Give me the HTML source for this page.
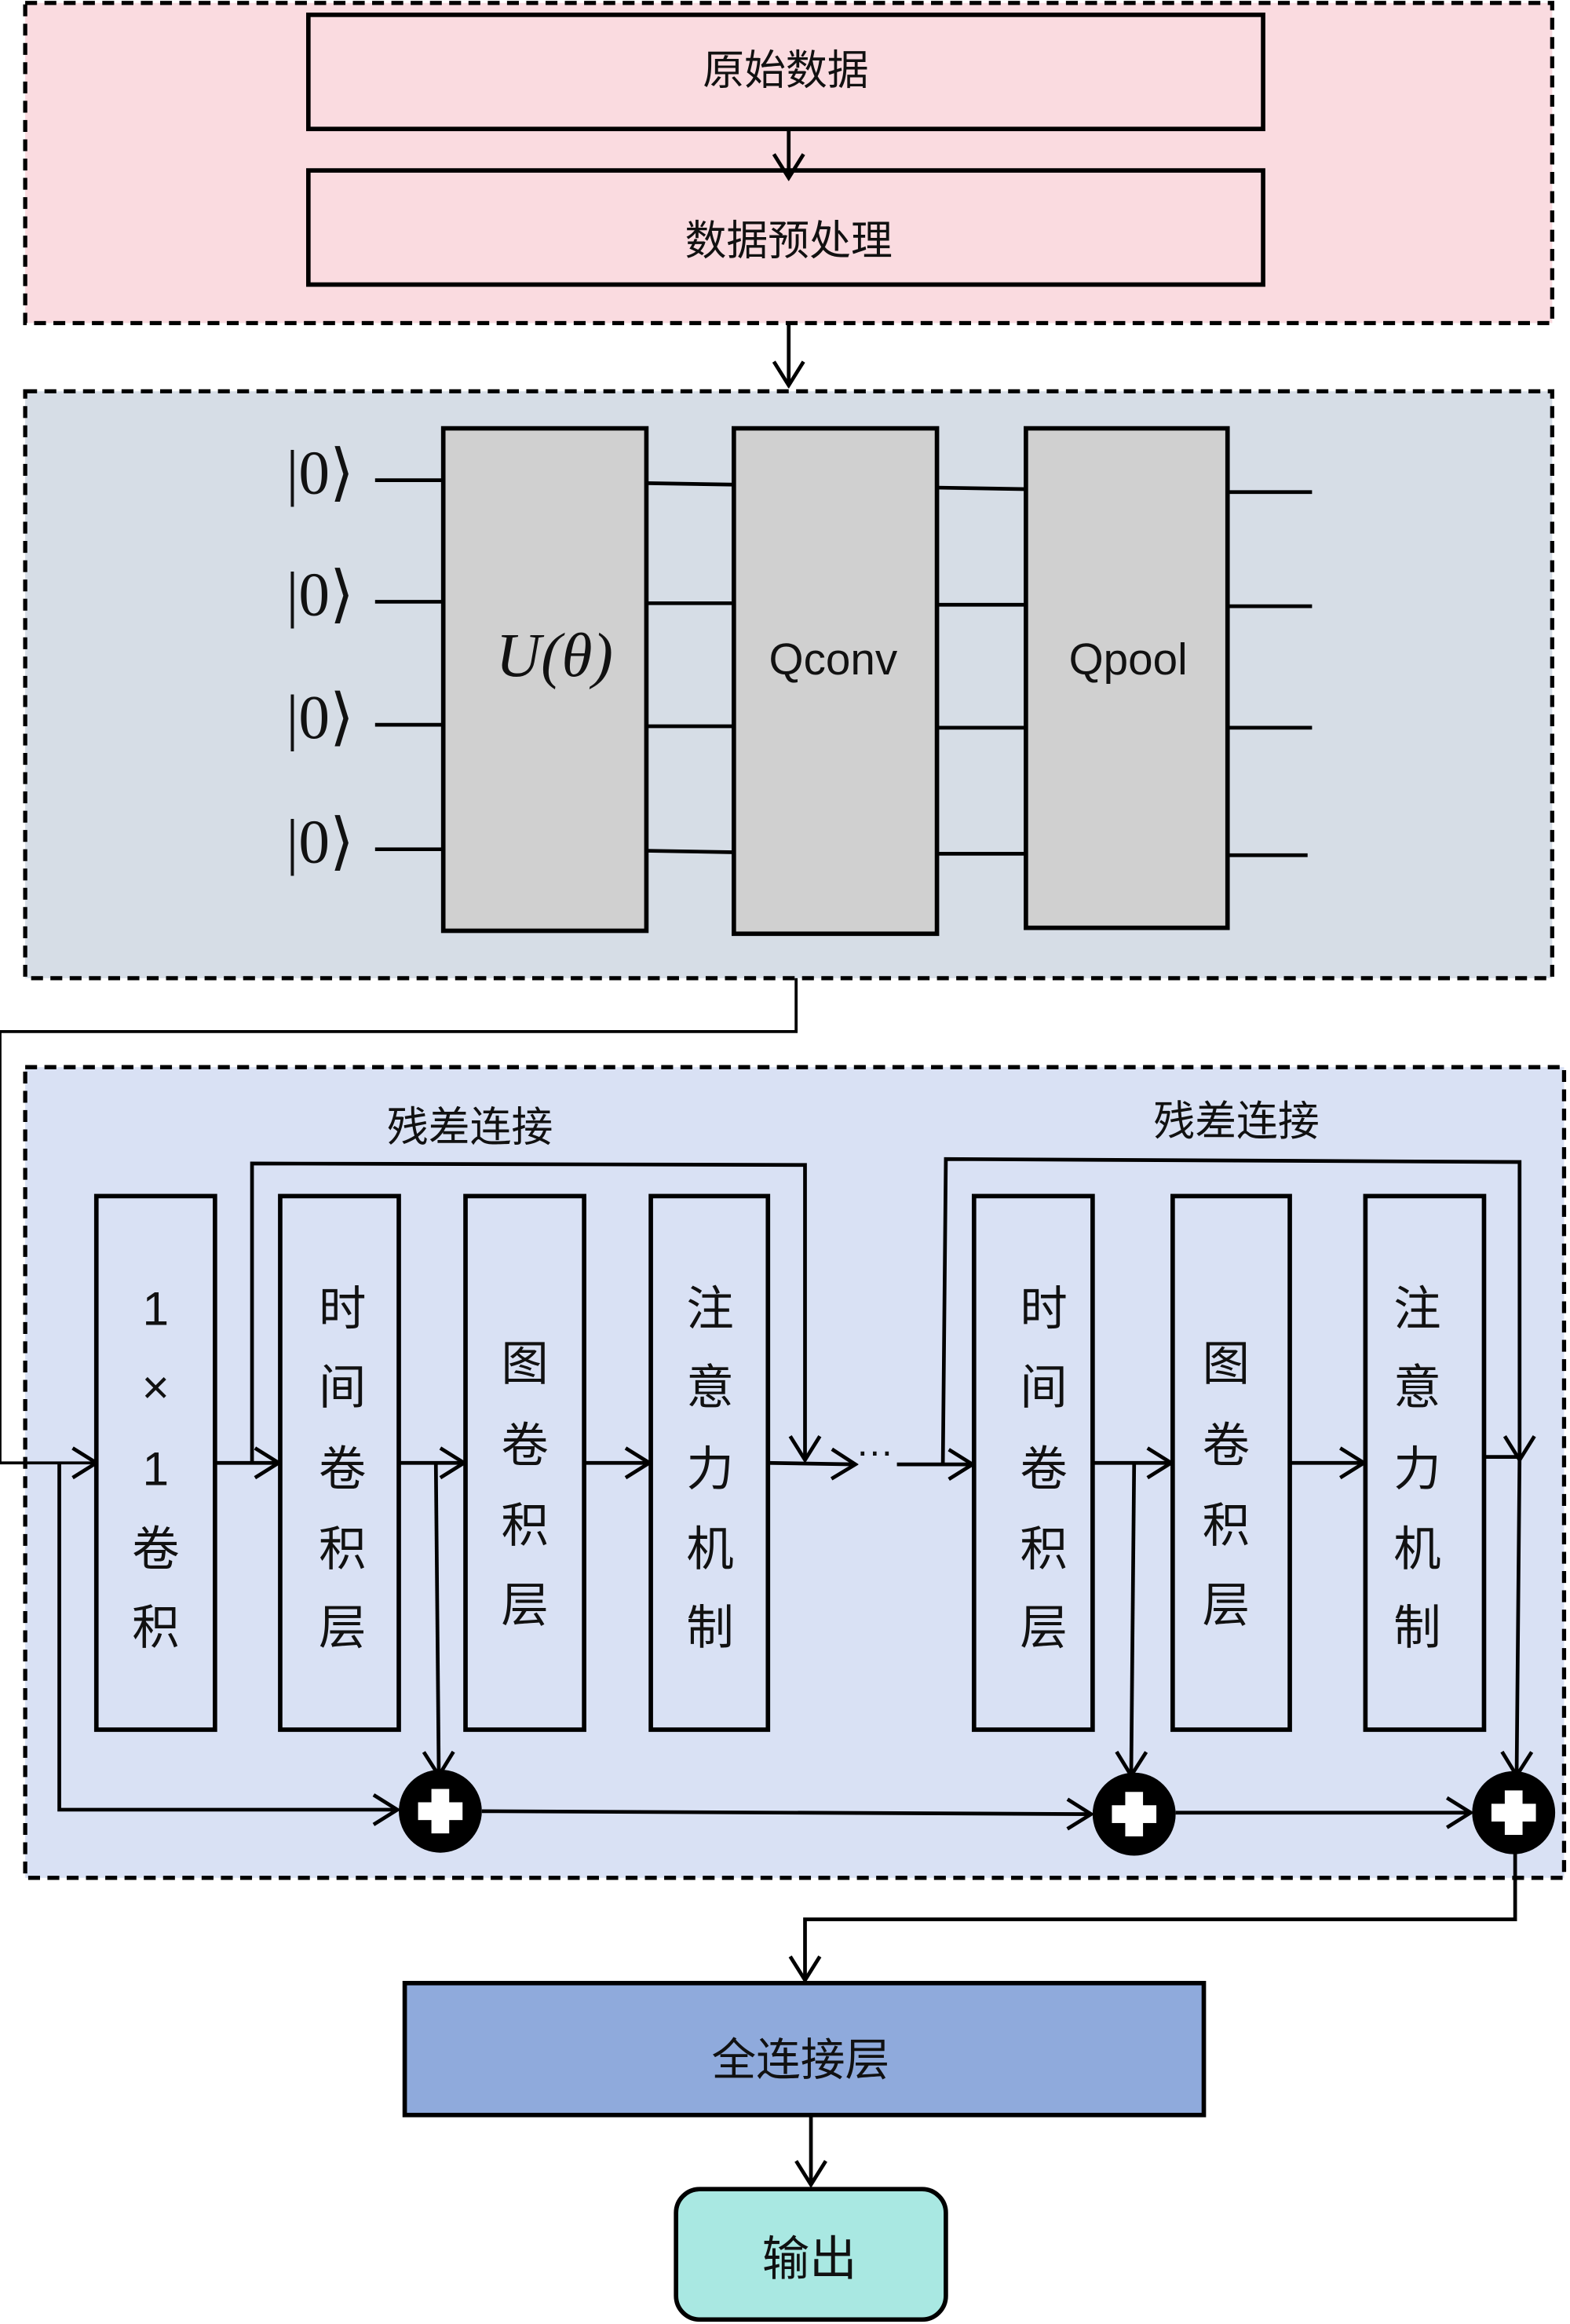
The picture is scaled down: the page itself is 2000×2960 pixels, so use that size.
<!DOCTYPE html>
<html><head><meta charset="utf-8"><style>
html,body{margin:0;padding:0;background:#fff}
svg{display:block}
text{font-family:"Liberation Sans","Noto Sans CJK SC",sans-serif;fill:#111}
.s{font-family:"Liberation Serif","Noto Serif CJK SC",serif}
</style></head><body>
<svg width="2000" height="2960" viewBox="0 0 1059 1568" preserveAspectRatio="none" xmlns="http://www.w3.org/2000/svg">
<defs>
<marker id="a" markerWidth="20" markerHeight="24" refX="18" refY="12" orient="auto" markerUnits="userSpaceOnUse">
<path d="M2,2 L18,12 L2,22" fill="none" stroke="#000" stroke-width="2.5"/>
</marker>
</defs>
<g stroke="#000" stroke-width="2.8" stroke-dasharray="8,5">
<rect x="17" y="2" width="1030" height="216" fill="#fadbe0"/>
<rect x="17" y="264" width="1030" height="396" fill="#d6dde6"/>
<rect x="17" y="720" width="1038" height="547" fill="#d9e1f4"/>
</g>
<g stroke="#000" stroke-width="3" fill="#fadbe0">
<rect x="208" y="10" width="644" height="77"/>
<rect x="208" y="115" width="644" height="77"/>
</g>
<text x="530" y="57" font-size="28" text-anchor="middle">原始数据</text>
<text x="532" y="172" font-size="28" text-anchor="middle">数据预处理</text>
<g stroke="#000" stroke-width="2.5" fill="none">
<line x1="532" y1="87" x2="532" y2="120" marker-end="url(#a)"/>
<line x1="532" y1="218" x2="532" y2="260" marker-end="url(#a)"/>
</g>
<g stroke="#000" stroke-width="2.5">
<line x1="253" y1="324" x2="299" y2="324"/><line x1="253" y1="406" x2="299" y2="406"/>
<line x1="253" y1="489" x2="299" y2="489"/><line x1="253" y1="573" x2="299" y2="573"/>
<line x1="436" y1="326" x2="495" y2="327"/><line x1="436" y1="407" x2="495" y2="407"/>
<line x1="436" y1="490" x2="495" y2="490"/><line x1="436" y1="574" x2="495" y2="575"/>
<line x1="632" y1="329" x2="692" y2="330"/><line x1="632" y1="408" x2="692" y2="408"/>
<line x1="632" y1="491" x2="692" y2="491"/><line x1="632" y1="576" x2="692" y2="576"/>
<line x1="828" y1="332" x2="885" y2="332"/><line x1="828" y1="409" x2="885" y2="409"/>
<line x1="828" y1="491" x2="885" y2="491"/><line x1="828" y1="577" x2="882" y2="577"/>
</g>
<g stroke="#000" stroke-width="3" fill="#d0d0d0">
<rect x="299" y="289" width="137" height="339"/>
<rect x="495" y="289" width="137" height="341"/>
<rect x="692" y="289" width="136" height="337"/>
</g>
<g font-size="42">
<text x="193" y="333" class="s">|0⟩</text>
<text x="193" y="415" class="s">|0⟩</text>
<text x="193" y="498" class="s">|0⟩</text>
<text x="193" y="582" class="s">|0⟩</text>
<text x="374" y="456" class="s" text-anchor="middle" font-style="italic">U(θ)</text>
</g>
<text x="562" y="455" font-size="30" text-anchor="middle">Qconv</text>
<text x="761" y="455" font-size="30" text-anchor="middle">Qpool</text>
<polyline points="537,660 537,696 0,696 0,987 65,987" fill="none" stroke="#000" stroke-width="2" marker-end="url(#a)"/>
<g stroke="#000" stroke-width="3" fill="#d9e1f4">
<rect x="65" y="807" width="80" height="360"/>
<rect x="189" y="807" width="80" height="360"/>
<rect x="314" y="807" width="80" height="360"/>
<rect x="439" y="807" width="79" height="360"/>
<rect x="657" y="807" width="80" height="360"/>
<rect x="791" y="807" width="79" height="360"/>
<rect x="921" y="807" width="80" height="360"/>
</g>
<g font-size="32" text-anchor="middle">
<text x="105" y="894">1</text><text x="105" y="947">×</text><text x="105" y="1002">1</text><text x="105" y="1056">卷</text><text x="105" y="1109">积</text>
<text x="231" y="894">时</text><text x="231" y="947">间</text><text x="231" y="1002">卷</text><text x="231" y="1056">积</text><text x="231" y="1109">层</text>
<text x="354" y="931">图</text><text x="354" y="986">卷</text><text x="354" y="1040">积</text><text x="354" y="1094">层</text>
<text x="479" y="894">注</text><text x="479" y="947">意</text><text x="479" y="1002">力</text><text x="479" y="1056">机</text><text x="479" y="1109">制</text>
<text x="704" y="894">时</text><text x="704" y="947">间</text><text x="704" y="1002">卷</text><text x="704" y="1056">积</text><text x="704" y="1109">层</text>
<text x="827" y="931">图</text><text x="827" y="986">卷</text><text x="827" y="1040">积</text><text x="827" y="1094">层</text>
<text x="956" y="894">注</text><text x="956" y="947">意</text><text x="956" y="1002">力</text><text x="956" y="1056">机</text><text x="956" y="1109">制</text>
</g>
<text x="317" y="770" font-size="28" text-anchor="middle">残差连接</text>
<text x="834" y="766" font-size="28" text-anchor="middle">残差连接</text>
<text x="590" y="982" font-size="26" text-anchor="middle">…</text>
<g stroke="#000" stroke-width="2.5" fill="none" marker-end="url(#a)">
<line x1="145" y1="987" x2="188" y2="987"/>
<line x1="269" y1="987" x2="313" y2="987"/>
<line x1="394" y1="987" x2="438" y2="987"/>
<line x1="518" y1="987" x2="577" y2="988"/>
<line x1="605" y1="988" x2="656" y2="988"/>
<line x1="737" y1="987" x2="790" y2="987"/>
<line x1="870" y1="987" x2="920" y2="987"/>
<polyline points="170,987 170,785 543,786 543,985"/>
<polyline points="636,987 638,782 1025,784 1025,985"/>
<polyline points="1001,983 1025,983 1023,1198"/>
<polyline points="294,987 296,1198"/>
<polyline points="765,987 763,1198"/>
<polyline points="40,987 40,1221 268,1221"/>
<line x1="325" y1="1222" x2="736" y2="1224"/>
<line x1="793" y1="1223" x2="992" y2="1223"/>
<polyline points="1022,1250 1022,1295 543,1295 543,1336"/>
<line x1="547" y1="1427" x2="547" y2="1474"/>
</g>
<g>
<circle cx="297" cy="1222" r="28" fill="#000"/>
<circle cx="765" cy="1224" r="28" fill="#000"/>
<circle cx="1021" cy="1223" r="28" fill="#000"/>
<g fill="#fff">
<rect x="282" y="1216" width="30" height="12"/><rect x="291" y="1207" width="12" height="30"/>
<rect x="750" y="1218" width="30" height="12"/><rect x="759" y="1209" width="12" height="30"/>
<rect x="1006" y="1217" width="30" height="12"/><rect x="1015" y="1208" width="12" height="30"/>
</g>
</g>
<rect x="273" y="1338" width="539" height="89" fill="#8faadc" stroke="#000" stroke-width="3"/>
<text x="540" y="1400" font-size="30" text-anchor="middle">全连接层</text>
<rect x="456" y="1477" width="182" height="88" rx="16" fill="#a9e8e2" stroke="#000" stroke-width="3"/>
<text x="546" y="1535" font-size="32" text-anchor="middle">输出</text>
</svg>
</body></html>
